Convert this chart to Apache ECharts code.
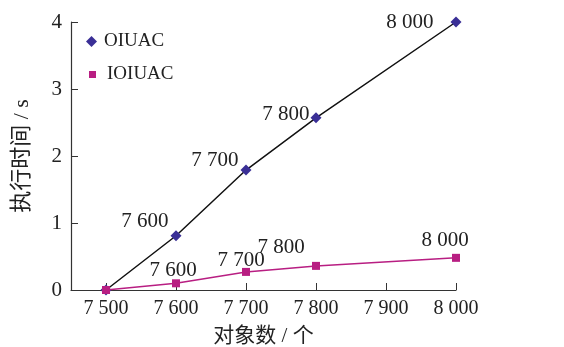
<!DOCTYPE html>
<html><head><meta charset="utf-8">
<script src="https://cdn.jsdelivr.net/npm/echarts@6/dist/echarts.min.js"></script>
<style>html,body{margin:0;padding:0;background:#fff}#c{width:564px;height:347px}</style>
</head><body><div id="c"></div>
<script>
const xValues = [7500, 7600, 7700, 7800, 8000];
const xTicks = [7500, 7600, 7700, 7800, 7900, 8000];
const oiuac = [0.0, 0.81, 1.79, 2.57, 4.0];
const ioiuac = [0.0, 0.10, 0.27, 0.36, 0.48];
const seriesNames = ['OIUAC', 'IOIUAC'];
// label nudges (styling only)
const oiuacLabelOffsets = [[0, 0], [2, -14], [2, -10], [3, -3], [-13, 0]];
const ioiuacLabelOffsets = [[0, 0], [-3, 7], [-5, 8], [-35, 1], [-11, 2]];
const fmt = v => { const s = String(v); return s.length > 3 ? s.slice(0, s.length - 3) + ' ' + s.slice(-3) : s; };
const font = '"Liberation Serif", "Times New Roman", serif';
const cjk = '"Liberation Serif", "Noto Sans CJK SC", serif';
const labelFs = 21;
const chart = echarts.init(document.getElementById('c'));
chart.setOption({
  animation: false,
  textStyle: { fontFamily: font },
  grid: { left: 71, right: 108, top: 22, bottom: 57, containLabel: false, outerBoundsMode: 'none' },
  legend: [
    {
      orient: 'vertical', left: 81, top: 27, itemWidth: 11, itemHeight: 11, itemGap: 10,
      textStyle: { fontFamily: font, fontSize: 19, color: '#222', padding: [0, 0, 0, 2] },
      data: [{ name: 'OIUAC', icon: 'diamond' }]
    },
    {
      orient: 'vertical', left: 84, top: 60, itemWidth: 7, itemHeight: 7, itemGap: 10,
      textStyle: { fontFamily: font, fontSize: 19, color: '#222', padding: [0, 0, 0, 6] },
      data: [{ name: 'IOIUAC', icon: 'rect' }]
    }
  ],
  xAxis: {
    type: 'value', min: 7450, max: 8000,
    name: '对象数 / 个', nameLocation: 'middle', nameGap: 36,
    nameTextStyle: { fontFamily: cjk, fontSize: 21, color: '#222' },
    axisLine: { lineStyle: { color: '#333', width: 1.2 } },
    axisTick: { inside: true, length: 7, customValues: xTicks, lineStyle: { color: '#333' } },
    axisLabel: { customValues: xTicks, formatter: fmt, fontFamily: font, fontSize: 20, color: '#222', margin: 9 },
    splitLine: { show: false }
  },
  yAxis: {
    type: 'value', min: 0, max: 4, interval: 1,
    name: '执行时间 / s', nameLocation: 'middle', nameGap: 38,
    nameTextStyle: { fontFamily: cjk, fontSize: 22, color: '#222' },
    axisLine: { show: true, lineStyle: { color: '#333', width: 1.2 } },
    axisTick: { show: true, inside: true, length: 7, lineStyle: { color: '#333' } },
    axisLabel: { fontFamily: font, fontSize: 21, color: '#222', margin: 9 },
    splitLine: { show: false }
  },
  series: [
    {
      name: seriesNames[0], type: 'line', symbol: 'diamond', symbolSize: 11,
      data: xValues.map((x, i) => ({
        value: [x, oiuac[i]],
        label: { offset: oiuacLabelOffsets[i] }
      })),
      lineStyle: { color: '#111', width: 1.5 },
      itemStyle: { color: '#3a2f96' },
      label: {
        show: true, position: 'left', distance: 4,
        formatter: p => p.dataIndex === 0 ? '' : fmt(p.value[0]),
        fontFamily: font, fontSize: labelFs, color: '#222'
      },
      z: 3
    },
    {
      name: seriesNames[1], type: 'line', symbol: 'rect', symbolSize: 8,
      data: xValues.map((x, i) => ({
        value: [x, ioiuac[i]],
        label: { offset: ioiuacLabelOffsets[i] }
      })),
      lineStyle: { color: '#b81e82', width: 1.5 },
      itemStyle: { color: '#b81e82' },
      label: {
        show: true, position: 'top', distance: 5,
        formatter: p => p.dataIndex === 0 ? '' : fmt(p.value[0]),
        fontFamily: font, fontSize: labelFs, color: '#222'
      },
      z: 4
    }
  ]
});
</script></body></html>
